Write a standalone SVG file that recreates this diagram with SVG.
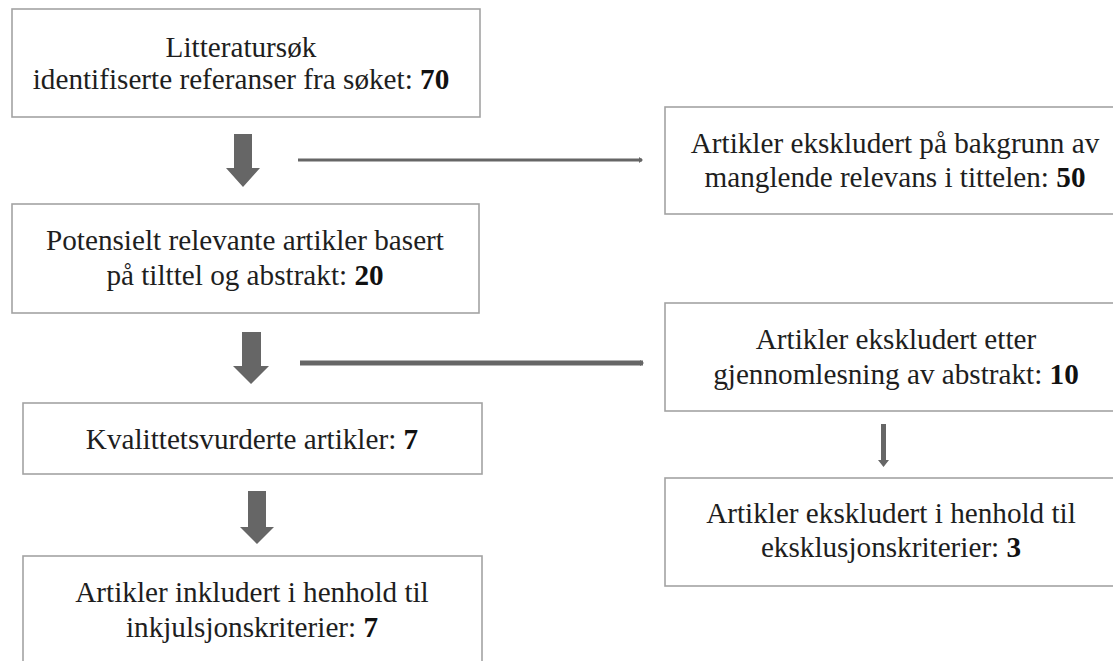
<svg xmlns="http://www.w3.org/2000/svg" width="1113" height="661" viewBox="0 0 1113 661">
<defs>
<style>
.box{fill:#fff;stroke:#a3a3a3;stroke-width:1.6}
.t{font-family:'Liberation Serif','Times New Roman',serif;font-size:29.2px;fill:#1e1e1e;text-anchor:middle}
.b{font-weight:bold;fill:#111}
.arr{fill:#666}
.ln{stroke:#666;fill:none}
</style>
<marker id="tip" viewBox="0 0 4 6" refX="3" refY="3" markerWidth="4" markerHeight="6" markerUnits="userSpaceOnUse" orient="auto">
<path d="M0,0 L4,3 L0,6 z" fill="#666"/>
</marker>
</defs>
<rect width="1113" height="661" fill="#fff"/>
<g id="n1">
<rect class="box" x="12" y="9" width="468" height="108"/>
<text class="t" x="241" y="57">Litteratursøk</text>
<text class="t" x="241" y="89">identifiserte referanser fra søket: <tspan class="b">70</tspan></text>
</g>
<g id="n2">
<rect class="box" x="12" y="204" width="467" height="109"/>
<text class="t" x="245" y="250">Potensielt relevante artikler basert</text>
<text class="t" x="245" y="285">på tilttel og abstrakt: <tspan class="b">20</tspan></text>
</g>
<g id="n3">
<rect class="box" x="23" y="403" width="459" height="71"/>
<text class="t" x="252" y="449">Kvalittetsvurderte artikler: <tspan class="b">7</tspan></text>
</g>
<g id="n4">
<rect class="box" x="23" y="556" width="459" height="130"/>
<text class="t" x="252" y="602">Artikler inkludert i henhold til</text>
<text class="t" x="252" y="637">inkjulsjonskriterier: <tspan class="b">7</tspan></text>
</g>
<g id="r1">
<rect class="box" x="665" y="107" width="460" height="107"/>
<text class="t" x="895" y="153">Artikler ekskludert på bakgrunn av</text>
<text class="t" x="895" y="187">manglende relevans i tittelen: <tspan class="b">50</tspan></text>
</g>
<g id="r2">
<rect class="box" x="665" y="303" width="460" height="108"/>
<text class="t" x="896" y="349">Artikler ekskludert etter</text>
<text class="t" x="896" y="384">gjennomlesning av abstrakt: <tspan class="b">10</tspan></text>
</g>
<g id="r3">
<rect class="box" x="665" y="478" width="460" height="108"/>
<text class="t" x="891" y="523">Artikler ekskludert i henhold til</text>
<text class="t" x="891" y="557">eksklusjonskriterier: <tspan class="b">3</tspan></text>
</g>
<g id="connectors">
<polygon class="arr" points="234,134 252,134 252,168 260,168 243,187 226,168 234,168"/>
<polygon class="arr" points="242,332 261,332 261,366 269,366 251,384 233,366 242,366"/>
<polygon class="arr" points="248,491 266,491 266,527 274,527 257,544 240,527 248,527"/>
<polygon class="arr" points="881,424 886,424 886,460 889,460 883.5,467 878,460 881,460"/>
<line class="ln" x1="298" y1="160" x2="642" y2="160" stroke-width="3" marker-end="url(#tip)"/>
<line class="ln" x1="300" y1="363" x2="643" y2="363" stroke-width="5" marker-end="url(#tip)"/>
</g>
</svg>
